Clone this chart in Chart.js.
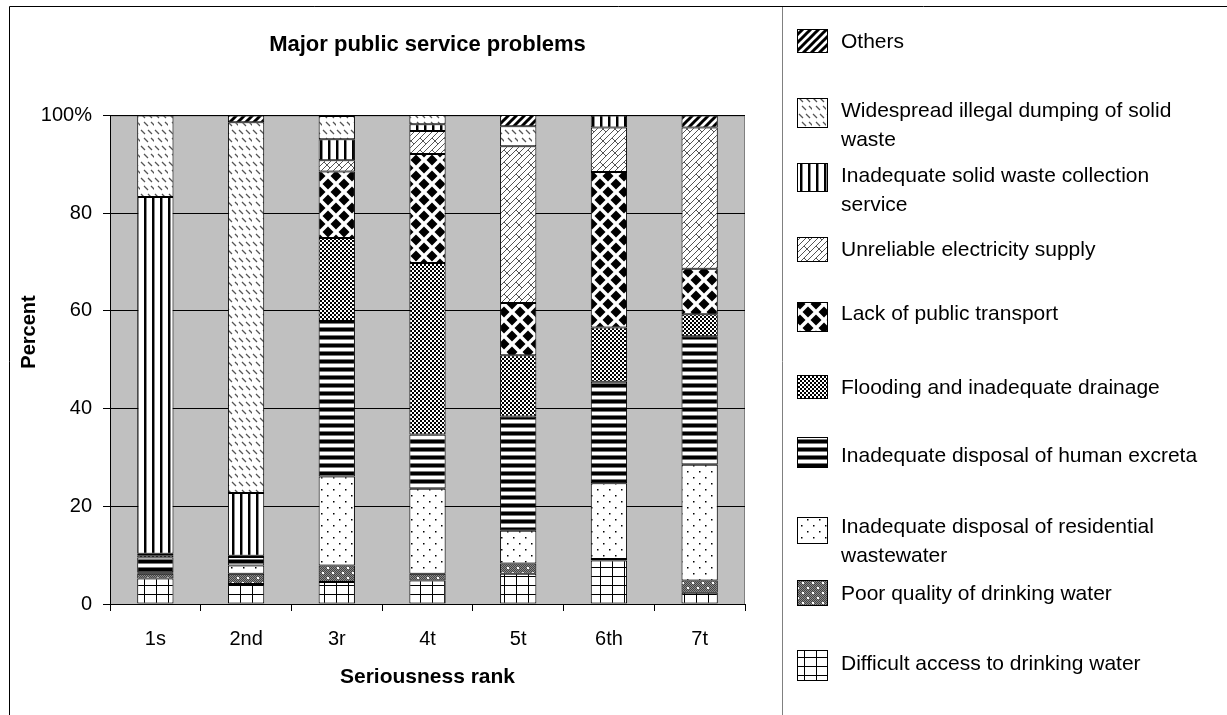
<!DOCTYPE html>
<html>
<head>
<meta charset="utf-8">
<script src="https://cdn.jsdelivr.net/npm/chart.js@4.4.1/dist/chart.umd.min.js"></script>
<style>
  html, body { margin: 0; padding: 0; background: #fff; }
  #wrap { width: 1227px; height: 715px; }
</style>
</head>
<body>
<div id="wrap"><canvas id="rankChart" width="1227" height="715"></canvas></div>
<script>
// seriousness ranks on the x axis
const ranks = ['1s', '2nd', '3r', '4t', '5t', '6th', '7t'];

// percent of respondents per rank, bottom of the stack first
const difficultAccess = [5.2, 4.1, 4.5, 4.8, 6.2, 8.9, 2.3];
const poorQuality     = [1.0, 2.1, 3.4, 1.4, 2.1, 0.3, 2.5];
const residentialWW   = [0.3, 1.7, 18.2, 17.4, 6.7, 15.5, 23.7];
const humanExcreta    = [3.0, 1.7, 31.8, 11.1, 23.4, 20.8, 26.3];
const flooding        = [0.5, 0.3, 17.0, 35.1, 12.5, 11.1, 4.5];
const publicTransport = [0.3, 0.0, 13.6, 22.3, 10.7, 31.8, 9.3];
const electricity     = [0.0, 0.0, 2.3, 4.7, 32.1, 9.1, 28.9];
const wasteCollection = [73.0, 12.8, 4.3, 1.4, 0.0, 2.5, 0.0];
const illegalDumping  = [16.7, 75.9, 4.8, 1.9, 4.1, 0.0, 0.0];
const others          = [0.0, 1.4, 0.0, 0.0, 2.3, 0.0, 2.5];

const yTicks = [0, 20, 40, 60, 80, 100];

const seriesNames = [
  'Difficult access to drinking water',
  'Poor quality of drinking water',
  'Inadequate disposal of residential wastewater',
  'Inadequate disposal of human excreta',
  'Flooding and inadequate drainage',
  'Lack of public transport',
  'Unreliable electricity supply',
  'Inadequate solid waste collection service',
  'Widespread illegal dumping of solid waste',
  'Others'
];
const seriesValues = [difficultAccess, poorQuality, residentialWW, humanExcreta, flooding,
  publicTransport, electricity, wasteCollection, illegalDumping, others];

// ---- hatch patterns (black & white print style) ----
function tile(w, h, draw) {
  const c = document.createElement('canvas');
  c.width = w; c.height = h;
  const g = c.getContext('2d');
  g.fillStyle = '#fff';
  g.fillRect(0, 0, w, h);
  draw(g, w, h);
  return document.getElementById('rankChart').getContext('2d').createPattern(c, 'repeat');
}

const patterns = [
  // grid
  tile(12, 9, g => { g.fillStyle = '#000'; g.fillRect(0, 0, 1, 9); g.fillRect(0, 0, 12, 1); }),
  // grey stipple with white specks
  tile(10, 10, g => {
    g.fillStyle = '#8a8a8a'; g.fillRect(0, 0, 10, 10);
    g.fillStyle = '#444';
    for (let y = 0; y < 10; y++) for (let x = (y % 2); x < 10; x += 2) g.fillRect(x, y, 1, 1);
    g.fillStyle = '#fff'; g.fillRect(2, 2, 2, 2); g.fillRect(7, 7, 2, 2);
  }),
  // sparse dots
  tile(12, 12, g => { g.fillStyle = '#000'; g.fillRect(3, 3, 1.5, 1.5); g.fillRect(9, 9, 1.5, 1.5); }),
  // heavy horizontal stripes
  tile(4, 8, g => {
    g.fillStyle = '#000'; g.fillRect(0, 0, 4, 3);
    g.fillStyle = '#777'; g.fillRect(0, 3, 4, 1); g.fillRect(0, 7, 4, 1);
  }),
  // small checker
  tile(4, 4, g => { g.fillStyle = '#000'; g.fillRect(0, 0, 2, 2); g.fillRect(2, 2, 2, 2); }),
  // large diamonds
  tile(16, 16, g => {
    g.fillStyle = '#000';
    [[0, 0], [16, 0], [0, 16], [16, 16], [8, 8]].forEach(([cx, cy]) => {
      g.beginPath();
      g.moveTo(cx, cy - 5.5); g.lineTo(cx + 5.5, cy); g.lineTo(cx, cy + 5.5); g.lineTo(cx - 5.5, cy);
      g.closePath(); g.fill();
    });
  }),
  // trellis
  tile(12, 12, g => {
    g.strokeStyle = '#555'; g.lineWidth = 1;
    g.beginPath();
    g.moveTo(-1, 13); g.lineTo(13, -1);
    g.moveTo(5, 13); g.lineTo(13, 5);
    g.moveTo(-1, 7); g.lineTo(7, -1);
    g.moveTo(0, 6); g.lineTo(6, 12);
    g.stroke();
  }),
  // vertical stripes
  tile(8, 4, g => { g.fillStyle = '#000'; g.fillRect(0, 0, 2, 4); g.fillStyle = '#888'; g.fillRect(2, 0, 1, 4); }),
  // short back-slash dashes
  tile(14, 16, g => {
    g.strokeStyle = '#555'; g.lineWidth = 1.3;
    g.beginPath();
    g.moveTo(1, 2); g.lineTo(5, 6);
    g.moveTo(8, 2); g.lineTo(12, 6);
    g.moveTo(4, 10); g.lineTo(8, 14);
    g.moveTo(11, 10); g.lineTo(15, 14);
    g.stroke();
  }),
  // bold forward diagonals
  tile(8, 8, g => {
    g.strokeStyle = '#000'; g.lineWidth = 3;
    g.beginPath();
    g.moveTo(-2, 10); g.lineTo(10, -2);
    g.moveTo(-2, 2); g.lineTo(2, -2);
    g.moveTo(6, 10); g.lineTo(10, 6);
    g.stroke();
  })
];

const datasets = seriesNames.map((name, i) => ({
  label: name,
  data: seriesValues[i],
  backgroundColor: patterns[i],
  borderColor: '#000',
  borderWidth: 1,
  borderSkipped: false,
  categoryPercentage: 1,
  barPercentage: 0.4
}));

const FONT = "'Liberation Sans', Arial, sans-serif";

const plotBackground = {
  id: 'plotBackground',
  beforeDraw(chart) {
    const { ctx, chartArea: a } = chart;
    ctx.save();
    ctx.fillStyle = '#c0c0c0';
    ctx.fillRect(a.left, a.top, a.width, a.height);
    ctx.strokeStyle = '#808080';
    ctx.lineWidth = 1;
    ctx.strokeRect(a.left + 0.5, a.top + 0.5, a.width - 1, a.height);
    // outer frame and the divider before the key
    ctx.strokeStyle = '#000';
    ctx.beginPath();
    ctx.moveTo(9.5, 716); ctx.lineTo(9.5, 6.5); ctx.lineTo(1228, 6.5);
    ctx.stroke();
    ctx.strokeStyle = '#808080';
    ctx.beginPath();
    ctx.moveTo(782.5, 7); ctx.lineTo(782.5, 716);
    ctx.stroke();
    // y axis caption, sits above the middle of the axis
    ctx.translate(29, 332);
    ctx.rotate(-Math.PI / 2);
    ctx.fillStyle = '#000';
    ctx.font = 'bold 20px ' + FONT;
    ctx.textAlign = 'center';
    ctx.textBaseline = 'middle';
    ctx.fillText('Percent', 0, 0);
    ctx.restore();
  }
};

// key on the right, last series on top
const keyRows = [
  { y: 42, box: [29, 53] },
  { y: 111, box: [98, 128] },
  { y: 176, box: [163, 192] },
  { y: 250, box: [237, 262] },
  { y: 314, box: [302, 332] },
  { y: 388, box: [375, 399] },
  { y: 456, box: [437, 468] },
  { y: 527, box: [517, 544] },
  { y: 594, box: [580, 606] },
  { y: 664, box: [650, 681] }
];

const sideKey = {
  id: 'sideKey',
  afterDraw(chart) {
    const { ctx } = chart;
    const sets = chart.data.datasets.slice().reverse();
    ctx.save();
    ctx.font = '21px ' + FONT;
    ctx.textBaseline = 'middle';
    sets.forEach((ds, i) => {
      const r = keyRows[i];
      const h = r.box[1] - r.box[0];
      ctx.fillStyle = ds.backgroundColor;
      ctx.fillRect(797, r.box[0], 31, h);
      ctx.strokeStyle = '#000';
      ctx.lineWidth = 1;
      ctx.strokeRect(797.5, r.box[0] + 0.5, 30, h - 1);
      // wrap long labels
      const words = ds.label.split(' ');
      const lines = [];
      let cur = '';
      words.forEach(w => {
        const t = cur ? cur + ' ' + w : w;
        if (ctx.measureText(t).width > 362 && cur) { lines.push(cur); cur = w; } else cur = t;
      });
      lines.push(cur);
      ctx.fillStyle = '#000';
      lines.forEach((ln, k) => ctx.fillText(ln, 841, r.y + k * 29));
    });
    ctx.restore();
  }
};

new Chart(document.getElementById('rankChart'), {
  type: 'bar',
  data: { labels: ranks, datasets: datasets },
  options: {
    responsive: false,
    animation: false,
    devicePixelRatio: 1,
    layout: { padding: { left: 10, right: 482, top: 8, bottom: 0 } },
    plugins: {
      legend: { display: false },
      tooltip: { enabled: false },
      title: {
        display: true,
        text: 'Major public service problems',
        fullSize: false,
        color: '#000',
        font: { family: FONT, size: 22, weight: 'bold' },
        padding: { top: 24, bottom: 57 }
      }
    },
    scales: {
      x: {
        stacked: true,
        afterFit(scale) { scale.height = 111; },
        grid: { display: true, offset: true, drawOnChartArea: false, drawTicks: true, tickLength: 7, color: '#000' },
        border: { display: true, color: '#000' },
        ticks: { color: '#000', padding: 16, font: { family: FONT, size: 20 } },
        title: {
          display: true,
          text: 'Seriousness rank',
          color: '#000',
          font: { family: FONT, size: 21, weight: 'bold' },
          padding: { top: 0, bottom: 25 }
        }
      },
      y: {
        stacked: true,
        min: 0,
        max: 100,
        afterFit(scale) { scale.width = 100; },
        afterBuildTicks(scale) { scale.ticks = yTicks.map(v => ({ value: v })); },
        grid: { color: '#000', tickLength: 7, drawTicks: true },
        border: { display: true, color: '#000' },
        ticks: {
          color: '#000',
          padding: 11,
          font: { family: FONT, size: 20 },
          callback: v => (v === 100 ? '100%' : String(v))
        }
      }
    }
  },
  plugins: [plotBackground, sideKey]
});
</script>
</body>
</html>
